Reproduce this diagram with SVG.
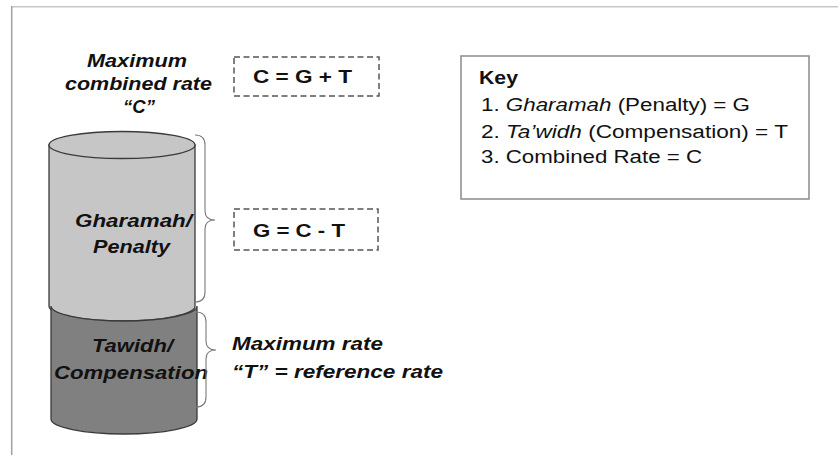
<svg xmlns="http://www.w3.org/2000/svg" width="838" height="455" viewBox="0 0 838 455">
<style>
.bg{fill:#ffffff}
.frameTop{stroke:#c8c8c8;stroke-width:1.5;fill:none}
.frameLeft{stroke:#a0a0a0;stroke-width:1.5;fill:none}
.cylLight{fill:#c6c6c6;stroke:#3a3a3a;stroke-width:1.3}
.cylDark{fill:#808080;stroke:#3a3a3a;stroke-width:1.3}
.dash{fill:none;stroke:#555555;stroke-width:1.5;stroke-dasharray:6 3.5}
.keybox{fill:#ffffff;stroke:#8a8a8a;stroke-width:1.5}
.brace{fill:none;stroke:#7a7a7a;stroke-width:1.1}
.t{font-family:"Liberation Sans",Arial,sans-serif;fill:#111111}
.bi{font-weight:bold;font-style:italic}
.b{font-weight:bold}
.i{font-style:italic}
.lbl{font-size:18.5px}
.cyl{font-size:17.5px}
.key{font-size:18px}
</style>
<rect class="bg" x="0" y="0" width="838" height="455"/>
<line class="frameTop" x1="11" y1="6.7" x2="838" y2="6.7"/>
<line class="frameLeft" x1="11.7" y1="6" x2="11.7" y2="455"/>

<g id="gharamah">
  <path class="cylLight" d="M49,145 L49,306 A73,15 0 0 0 195,306 L195,145 Z"/>
  <ellipse class="cylLight" cx="122" cy="145" rx="73" ry="13.5"/>
  <text class="t bi cyl" x="75" y="227" textLength="117" lengthAdjust="spacingAndGlyphs">Gharamah/</text>
  <text class="t bi cyl" x="93" y="253" textLength="77" lengthAdjust="spacingAndGlyphs">Penalty</text>
</g>

<g id="tawidh">
  <path class="cylDark" d="M51,306 A73,15 0 0 0 197,306 L197,419 A73,15 0 0 1 51,419 Z"/>
  <text class="t bi cyl" x="92" y="352" textLength="81" lengthAdjust="spacingAndGlyphs">Tawidh/</text>
  <text class="t bi cyl" x="54" y="379" textLength="154" lengthAdjust="spacingAndGlyphs">Compensation</text>
</g>

<g id="label-c">
  <text class="t bi lbl" x="87" y="67" textLength="100" lengthAdjust="spacingAndGlyphs">Maximum</text>
  <text class="t bi lbl" x="65" y="90" textLength="147" lengthAdjust="spacingAndGlyphs">combined rate</text>
  <text class="t bi lbl" x="139" y="113" text-anchor="middle">“C”</text>
</g>

<g id="eq-c">
  <rect class="dash" x="234" y="57" width="145" height="39"/>
  <text class="t b lbl" x="253" y="83" textLength="99" lengthAdjust="spacingAndGlyphs">C = G + T</text>
</g>

<g id="eq-g">
  <rect class="dash" x="234" y="209" width="144" height="41"/>
  <text class="t b lbl" x="253" y="237" textLength="92" lengthAdjust="spacingAndGlyphs">G = C - T</text>
</g>

<g id="label-t">
  <text class="t bi lbl" x="232" y="350" textLength="151" lengthAdjust="spacingAndGlyphs">Maximum rate</text>
  <text class="t bi lbl" x="232" y="378" textLength="211" lengthAdjust="spacingAndGlyphs">“T” = reference rate</text>
</g>

<g id="key">
  <rect class="keybox" x="461" y="56" width="348" height="143"/>
  <text class="t b key" x="479" y="84" font-size="19" textLength="39" lengthAdjust="spacingAndGlyphs">Key</text>
  <text class="t key" x="481" y="111" textLength="269" lengthAdjust="spacingAndGlyphs">1. <tspan class="i">Gharamah</tspan> (Penalty) = G</text>
  <text class="t key" x="481" y="138" textLength="307" lengthAdjust="spacingAndGlyphs">2. <tspan class="i">Ta’widh</tspan> (Compensation) = T</text>
  <text class="t key" x="481" y="163" textLength="221" lengthAdjust="spacingAndGlyphs">3. Combined Rate = C</text>
</g>

<g id="connectors">
  <path class="brace" d="M195,135 Q205,135 205,145 L205,211 Q205,220 215,220 Q205,220 205,229 L205,292 Q205,302 195,302"/>
  <path class="brace" d="M196,312 Q206,312 206,322 L206,341 Q206,350 216,350 Q206,350 206,359 L206,397 Q206,407 196,407"/>
</g>
</svg>
